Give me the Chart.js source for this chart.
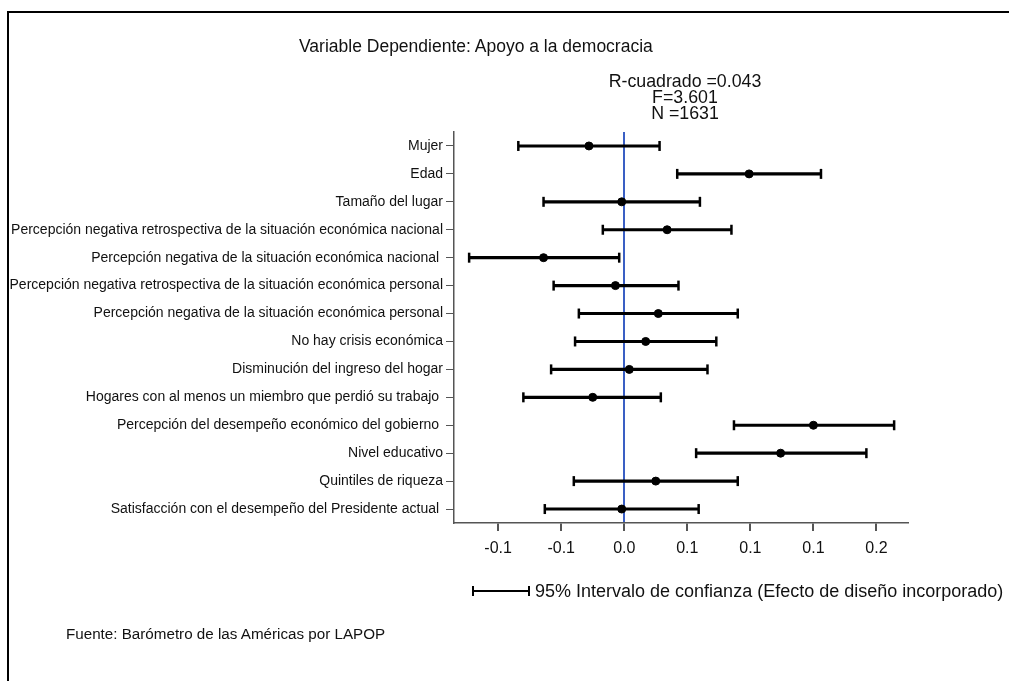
<!DOCTYPE html>
<html>
<head>
<meta charset="utf-8">
<script src="https://cdn.jsdelivr.net/npm/chart.js@4/dist/chart.umd.min.js"></script>
<style>
  body { margin: 0; background: #fff; font-family: "Liberation Sans", Arial, sans-serif; color: #111; }
  #wrap { position: relative; width: 1009px; height: 681px; overflow: hidden; }
  #frame { position: absolute; left: 7px; top: 11px; width: 1100px; height: 800px; border-left: 2px solid #000; border-top: 2px solid #000; }
  .txt { position: absolute; white-space: nowrap; line-height: 16px; }
  #title { left: 299px; top: 38px; font-size: 17.5px; }
  #stats { left: 685px; top: 73px; font-size: 17.8px; transform: translateX(-50%); text-align: center; }
  #legend { left: 472px; top: 582px; font-size: 18px; line-height: 18px; }
  .bar { display: inline-block; position: relative; width: 58px; height: 18px; vertical-align: top; margin-right: 5px; }
  .bar i { position: absolute; background: #000; }
  #source { left: 66px; top: 626px; font-size: 15.2px; }
  canvas { position: absolute; left: 0; top: 0; }
</style>
</head>
<body>
<div id="wrap">
  <div id="frame"></div>
  <canvas id="chart" width="1009" height="681"></canvas>
  <div class="txt" id="title">Variable Dependiente: Apoyo a la democracia</div>
  <div class="txt" id="stats">R-cuadrado =0.043<br>F=3.601<br>N =1631</div>
  <div class="txt" id="legend"><span class="bar"><i style="left:0;top:4px;width:2px;height:10px"></i><i style="left:0;top:8px;width:58px;height:2px"></i><i style="left:56px;top:4px;width:2px;height:10px"></i></span>95% Intervalo de confianza (Efecto de diseño incorporado)</div>
  <div class="txt" id="source">Fuente: Barómetro de las Américas por LAPOP</div>
</div>
<script>
const variables = [
  'Mujer',
  'Edad',
  'Tamaño del lugar',
  'Percepción negativa retrospectiva de la situación económica nacional',
  'Percepción negativa de la situación económica nacional ',
  'Percepción negativa retrospectiva de la situación económica personal',
  'Percepción negativa de la situación económica personal',
  'No hay crisis económica',
  'Disminución del ingreso del hogar',
  'Hogares con al menos un miembro que perdió su trabajo ',
  'Percepción del desempeño económico del gobierno ',
  'Nivel educativo',
  'Quintiles de riqueza',
  'Satisfacción con el desempeño del Presidente actual '
];
const coef  = [-0.028, 0.099, -0.002, 0.034, -0.064, -0.007, 0.027, 0.017, 0.004, -0.025, 0.150, 0.124, 0.025, -0.002];
const lower = [-0.084, 0.042, -0.064, -0.017, -0.123, -0.056, -0.036, -0.039, -0.058, -0.080, 0.087, 0.057, -0.040, -0.063];
const upper = [0.028, 0.156, 0.060, 0.085, -0.004, 0.043, 0.090, 0.073, 0.066, 0.029, 0.214, 0.192, 0.090, 0.059];

// the original axis rounds every tick to one decimal
const xTickLabels = ['-0.1', '-0.1', '0.0', '0.1', '0.1', '0.1', '0.2'];
const xMin = -0.135, xMax = 0.225, xStep = 0.05;
const axisGray = '#555';

// little caps at the ends of each interval
const capsPlugin = {
  id: 'caps',
  afterDatasetsDraw(chart) {
    const { ctx, scales: { x, y } } = chart;
    ctx.save();
    ctx.strokeStyle = '#000';
    ctx.lineWidth = 2.5;
    lower.forEach((lo, i) => {
      const yy = y.getPixelForValue(i);
      [lo, upper[i]].forEach(v => {
        const xx = x.getPixelForValue(v);
        ctx.beginPath();
        ctx.moveTo(xx, yy - 5);
        ctx.lineTo(xx, yy + 5);
        ctx.stroke();
      });
    });
    ctx.restore();
  }
};

new Chart(document.getElementById('chart'), {
  type: 'bar',
  data: {
    labels: variables,
    datasets: [
      {
        type: 'bar',
        data: lower.map((lo, i) => [lo, upper[i]]),
        backgroundColor: '#000',
        barThickness: 2.5,
        order: 2
      },
      {
        type: 'line',
        data: coef,
        showLine: false,
        pointRadius: 4,
        pointBackgroundColor: '#000',
        pointBorderColor: '#000',
        order: 1
      }
    ]
  },
  options: {
    indexAxis: 'y',
    responsive: false,
    animation: false,
    layout: { padding: { left: 0, top: 132, right: 101, bottom: 113 } },
    plugins: { legend: { display: false }, tooltip: { enabled: false } },
    scales: {
      x: {
        type: 'linear',
        min: xMin,
        max: xMax,
        z: 1,
        afterFit: s => { s.height = 45; },
        border: { color: axisGray, width: 1.5 },
        grid: {
          color: c => (c.tick && Math.abs(c.tick.value) < 1e-9) ? '#3a5fc4' : 'rgba(0,0,0,0)',
          lineWidth: 2,
          tickColor: axisGray,
          tickLength: 8
        },
        ticks: {
          stepSize: xStep,
          includeBounds: false,
          color: '#111',
          padding: 8,
          font: { family: 'Liberation Sans', size: 16 },
          callback: (v, i) => xTickLabels[i]
        }
      },
      y: {
        type: 'category',
        afterFit: s => { s.width = 454; },
        border: { color: axisGray, width: 1.5 },
        grid: { offset: false, drawOnChartArea: false, tickColor: axisGray, tickLength: 8 },
        ticks: {
          color: '#111',
          padding: 3,
          autoSkip: false,
          font: { family: 'Liberation Sans', size: 14 }
        }
      }
    }
  },
  plugins: [capsPlugin]
});
</script>
</body>
</html>
